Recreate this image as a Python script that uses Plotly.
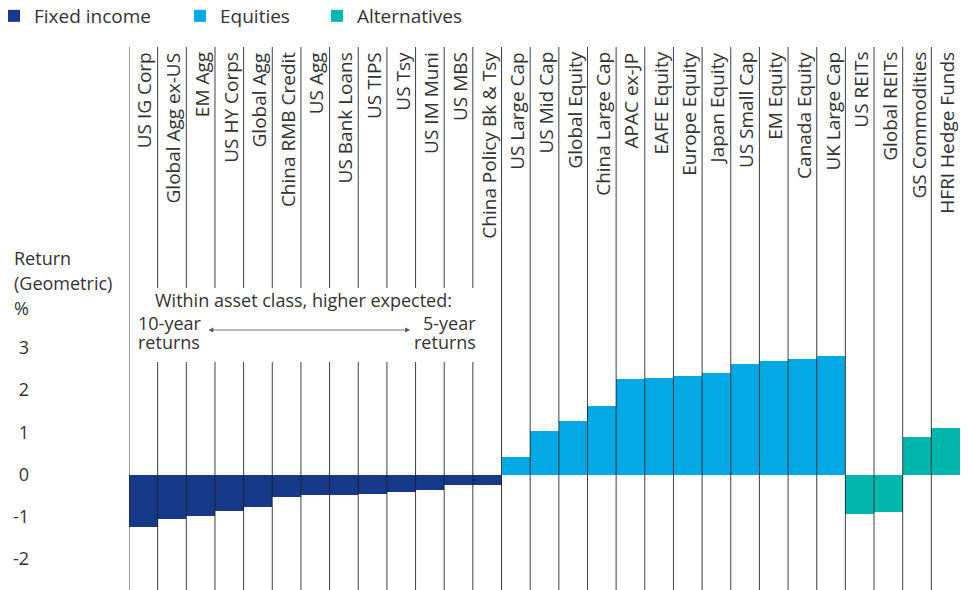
import plotly.graph_objects as go

# ---- data ----
fixed_income_names = ["US IG Corp", "Global Agg ex-US", "EM Agg", "US HY Corps", "Global Agg",
                      "China RMB Credit", "US Agg", "US Bank Loans", "US TIPS", "US Tsy",
                      "US IM Muni", "US MBS", "China Policy Bk & Tsy"]
fixed_income_values = [-1.24, -1.05, -0.98, -0.86, -0.76, -0.54, -0.49, -0.49, -0.47, -0.41,
                       -0.36, -0.26, -0.26]
equities_names = ["US Large Cap", "US Mid Cap", "Global Equity", "China Large Cap", "APAC ex-JP",
                  "EAFE Equity", "Europe Equity", "Japan Equity", "US Small Cap", "EM Equity",
                  "Canada Equity", "UK Large Cap"]
equities_values = [0.41, 1.03, 1.27, 1.62, 2.26, 2.29, 2.33, 2.41, 2.62, 2.69, 2.74, 2.81]
alternatives_names = ["US REITs", "Global REITs", "GS Commodities", "HFRI Hedge Funds"]
alternatives_values = [-0.93, -0.88, 0.89, 1.10]
y_tick_values = [3, 2, 1, 0, -1, -2]
y_tick_labels = ["3", "2", "1", "0", "-1", "-2"]

categories = fixed_income_names + equities_names + alternatives_names

# ---- layout constants (page body has an 8px margin) ----
OFF = 8
W, H = 969 - OFF, 590 - OFF
PLOT_L, PLOT_R, PLOT_T, PLOT_B = 129, 960, 47, 590   # in screenshot pixels
ML, MT = PLOT_L - OFF, PLOT_T - OFF
MR, MB = W - (PLOT_R - OFF), H - (PLOT_B - OFF)
PW, PH = W - ML - MR, H - MT - MB
FONT = "Open Sans"
TXT = "#333333"
C_FI, C_EQ, C_ALT = "#163A89", "#03A9E4", "#00B6AD"


def px_x(px):
    return (px - PLOT_L) / PW


def px_y(py):
    return 1 - (py - PLOT_T) / PH


fig = go.Figure()
series = [("Fixed income", fixed_income_names, fixed_income_values, C_FI, "legend"),
          ("Equities", equities_names, equities_values, C_EQ, "legend2"),
          ("Alternatives", alternatives_names, alternatives_values, C_ALT, "legend3")]
for name, xs, ys, col, lg in series:
    fig.add_trace(go.Bar(x=xs, y=ys, name=name, width=1, legend=lg,
                         marker=dict(color=col, line=dict(width=0))))

# vertical separators between categories
gap_top, gap_bot = px_y(288), px_y(362)
n_fi = len(fixed_income_names)
shapes = []
for i in range(len(categories)):
    xb = i - 0.5
    if 1 <= i <= n_fi - 1:
        segs = [(gap_top, 1), (0, gap_bot)]
    else:
        segs = [(0, 1)]
    for y0, y1 in segs:
        shapes.append(dict(type="line", xref="x", yref="paper", x0=xb, x1=xb, y0=y0, y1=y1,
                           line=dict(color="rgba(30,30,30,0.85)", width=1), layer="above"))

annotations = []
# category labels (rotated) at top of each column
for c in categories:
    annotations.append(dict(x=c, xref="x", y=px_y(50), yref="paper", text=c, textangle=-90,
                            showarrow=False, xanchor="center", yanchor="top", xshift=1,
                            font=dict(family=FONT, size=19, color=TXT)))
# y-axis title
for t, py in [("Return", 258), ("(Geometric)", 283), ("%", 308)]:
    annotations.append(dict(x=px_x(12), xref="paper", y=px_y(py), yref="paper", text=t,
                            showarrow=False, xanchor="left", yanchor="middle",
                            font=dict(family=FONT, size=18, color=TXT)))
# in-chart note
note_font = dict(family=FONT, size=18, color=TXT)
annotations += [
    dict(x=px_x(153), xref="paper", y=px_y(300), yref="paper", text="Within asset class, higher expected:",
         showarrow=False, xanchor="left", yanchor="middle", font=note_font),
    dict(x=px_x(136), xref="paper", y=px_y(323), yref="paper", text="10-year",
         showarrow=False, xanchor="left", yanchor="middle", font=note_font),
    dict(x=px_x(136), xref="paper", y=px_y(342), yref="paper", text="returns",
         showarrow=False, xanchor="left", yanchor="middle", font=note_font),
    dict(x=px_x(478), xref="paper", y=px_y(323), yref="paper", text="5-year",
         showarrow=False, xanchor="right", yanchor="middle", font=note_font),
    dict(x=px_x(478), xref="paper", y=px_y(342), yref="paper", text="returns",
         showarrow=False, xanchor="right", yanchor="middle", font=note_font),
    dict(x=px_x(410), xref="paper", y=px_y(330), yref="paper", text="", showarrow=True,
         ax=-203, ay=0, axref="pixel", ayref="pixel", arrowside="end+start",
         arrowhead=2, startarrowhead=2, arrowsize=1.2, startarrowsize=1.2,
         arrowwidth=0.8, arrowcolor="#555555", standoff=0, startstandoff=0),
]

leg_common = dict(orientation="h", xref="paper", yref="paper", xanchor="left",
                  yanchor="middle", bgcolor="rgba(0,0,0,0)", borderwidth=0,
                  font=dict(family=FONT, size=19, color=TXT))
LEG_TXT = 41  # offset from legend left edge to its text

fig.update_layout(
    width=W, height=H,
    margin=dict(l=ML, r=MR, t=MT, b=MB, pad=0, autoexpand=False),
    paper_bgcolor="white", plot_bgcolor="white",
    barmode="relative", bargap=0,
    font=dict(family=FONT, size=18, color=TXT),
    xaxis=dict(type="category", categoryorder="array", categoryarray=categories,
               range=[-0.5, len(categories) - 0.5], showticklabels=False, showgrid=False,
               zeroline=False, showline=False, ticks=""),
    yaxis=dict(range=[-2.737, 10.13], tickvals=y_tick_values, ticktext=y_tick_labels,
               showgrid=False, zeroline=False, showline=False, ticks="",
               ticklabelstandoff=99, tickfont=dict(family=FONT, size=18, color=TXT)),
    shapes=shapes,
    annotations=annotations,
    showlegend=True,
    legend=dict(x=px_x(35 - LEG_TXT), y=px_y(16), **leg_common),
    legend2=dict(x=px_x(221 - LEG_TXT), y=px_y(16), **leg_common),
    legend3=dict(x=px_x(358 - LEG_TXT), y=px_y(16), **leg_common),
)

fig.write_html("out.html")
